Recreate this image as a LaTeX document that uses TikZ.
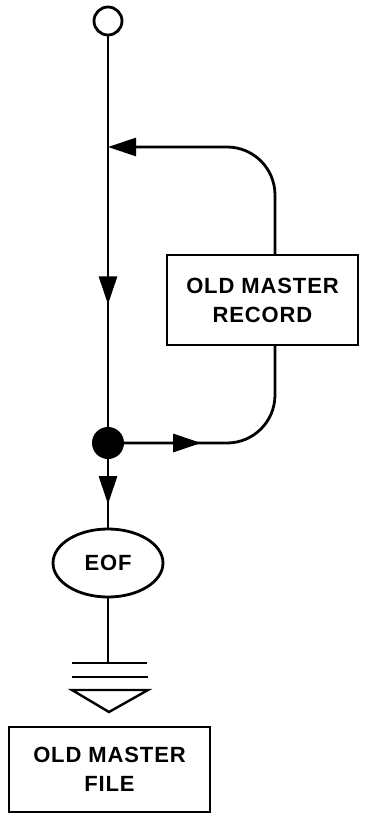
\documentclass[tikz,border=0pt]{standalone}
\usepackage{fontspec}
\setmainfont{Liberation Sans}
\newfontfamily\lbfont[LetterSpace=4]{Liberation Sans}
\usetikzlibrary{arrows.meta,decorations.markings,shapes.geometric}
\tikzset{
  ln/.style={line width=2.8pt},
  tip/.style={-{Triangle[length=28pt,width=18pt]}},
  midarrow/.style={postaction={decorate},decoration={markings,mark=at position #1 with {\arrow{Triangle[length=28pt,width=18pt]}}}},
  lbl/.style={font=\fontsize{22}{29}\lbfont\bfseries},
  box/.style={draw,line width=2.8pt,rectangle,inner sep=0pt,lbl,align=center}
}
\begin{document}
\begin{tikzpicture}[x=1pt,y=-1pt]
\useasboundingbox (0,0) rectangle (374,818);
\node[draw,ln,circle,minimum size=28pt,inner sep=0pt] (start) at (108,21) {};
\node[fill=black,circle,minimum size=32pt,inner sep=0pt] (dot) at (108,443) {};
\coordinate (j1) at (108,147);
\node[box,minimum width=191pt,minimum height=90pt] (rec) at (262.5,300) {OLD MASTER\\RECORD};
\coordinate (rt) at (275,255);
\coordinate (rb) at (275,345);
\node[draw,ln,ellipse,minimum width=110pt,minimum height=68pt,inner sep=0pt,lbl] (eof) at (108,563) {EOF};
\coordinate (g1) at (108,663);
\node[box,minimum width=201pt,minimum height=85pt] (file) at (109.5,769.5) {OLD MASTER\\FILE};
% main line
\draw[ln,midarrow=268pt] (start) -- (dot);
% loop top
\draw[ln,tip,rounded corners=48pt] (rt) |- (j1);
% loop bottom
\draw[ln,midarrow=77pt,rounded corners=48pt] (dot) -| (rb);
% dot to eof
\draw[ln,midarrow=45pt] (dot) -- (eof);
% eof to ground
\draw[ln] (eof) -- (g1);
\draw[line width=2.4pt] (72,663) -- (147,663);
\draw[line width=2.4pt] (72,677) -- (148,677);
\draw[line width=2.4pt,line join=miter] (72,690) -- (148,690) -- (109,712) -- cycle;
\end{tikzpicture}
\end{document}
